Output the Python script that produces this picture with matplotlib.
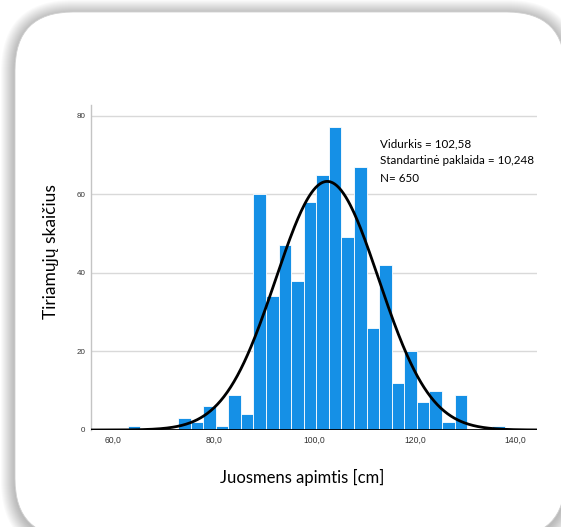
import numpy as np
import matplotlib
matplotlib.use("Agg")
import matplotlib.pyplot as plt
from matplotlib.patches import FancyBboxPatch

# histogram data (SPSS style), bins of 2.5 cm
bin_start = 62.9
bin_width = 2.5
counts = [1, 0, 0, 0, 3, 2, 6, 1, 9, 4, 60, 34, 47, 38, 58, 65, 77, 49, 67,
          26, 42, 12, 20, 7, 10, 2, 9, 0, 0, 1]
mean = 102.58
std = 10.248
n = 650

x_ticks = [60, 80, 100, 120, 140]
x_tick_labels = ["60,0", "80,0", "100,0", "120,0", "140,0"]
y_ticks = [0, 20, 40, 60, 80]
stats_lines = ["Vidurkis = 102,58", "Standartinė paklaida = 10,248", "N= 650"]

fig = plt.figure(figsize=(5.61, 5.27), dpi=100)
fig.patch.set_facecolor("white")

# background card with soft shadow (pixel coordinates)
bg = fig.add_axes([0, 0, 1, 1], zorder=0)
bg.set_xlim(0, 561)
bg.set_ylim(527, 0)
bg.axis("off")
for k in range(14, 0, -1):
    sh = FancyBboxPatch((15 - k, 14 - k), 550 + 2 * k, 525 + 2 * k,
                        boxstyle="round,pad=0,rounding_size=%d" % (58 + k),
                        fc="black", ec="none", alpha=0.018)
    bg.add_patch(sh)
card = FancyBboxPatch((15, 12), 550, 525, boxstyle="round,pad=0,rounding_size=58",
                      fc="white", ec="#d0d0d0", lw=0.6)
bg.add_patch(card)

ax = fig.add_axes([91 / 561, 1 - 430 / 527, 446 / 561, 325 / 527], zorder=1)
ax.patch.set_alpha(0)

edges = [bin_start + i * bin_width for i in range(len(counts))]
ax.bar(edges, counts, width=bin_width, align="edge", color="#1590e6",
       edgecolor="white", linewidth=0.6, zorder=2)

xs = np.linspace(55.6, 144.3, 400)
ys = n * bin_width / (std * np.sqrt(2 * np.pi)) * np.exp(-0.5 * ((xs - mean) / std) ** 2)
ax.plot(xs, ys, color="black", lw=2, zorder=3)

ax.set_xlim(55.6, 144.3)
ax.set_ylim(0, 82.7)
for t in y_ticks[1:]:
    ax.axhline(t, color="#d9d9d9", lw=1, zorder=1)
ax.axhline(0, color="black", lw=2, zorder=4)

for s in ["top", "right", "bottom"]:
    ax.spines[s].set_visible(False)
ax.spines["left"].set_color("#c4c4c4")
ax.spines["left"].set_linewidth(1)

ax.set_xticks(x_ticks)
ax.set_xticklabels(x_tick_labels, fontsize=6.2, color="#333333", family="Liberation Sans")
ax.set_yticks(y_ticks)
ax.set_yticklabels([str(v) for v in y_ticks], fontsize=5.8, color="#333333", family="Liberation Sans")
ax.tick_params(axis="both", length=0, pad=4)

for i, line in enumerate(stats_lines):
    fig.text(380 / 561, 1 - (144 + 17 * i) / 527, line,
             fontsize=8.4, family="Lato", va="center", ha="left")

fig.text(302 / 561, 1 - 477 / 527, "Juosmens apimtis [cm]", fontsize=12,
         family="Lato", ha="center", va="center")
fig.text(51 / 561, 1 - 252 / 527, "Tiriamųjų skaičius", fontsize=12.5,
         family="Lato", ha="center", va="center", rotation=90)

fig.savefig("out.png", dpi=100)
